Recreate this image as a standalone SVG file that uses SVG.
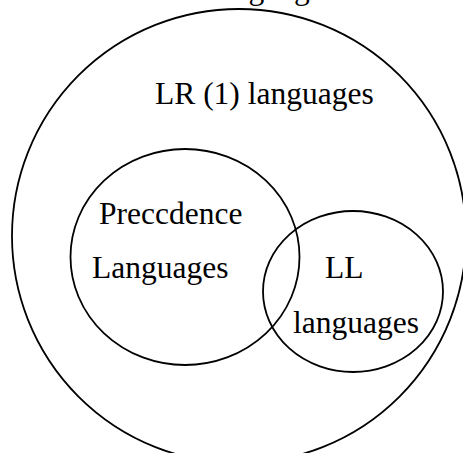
<svg xmlns="http://www.w3.org/2000/svg" width="463" height="453" viewBox="0 0 463 453">
<style>
.set{fill:none;stroke:#000;stroke-width:1.8}
text{font-family:"Liberation Serif","Times New Roman",serif;font-size:31.5px;fill:#000}
</style>
<rect width="463" height="453" fill="#fff"/>
<text id="caption" x="336" y="-1" text-anchor="end">context-free languages</text>
<g id="lr1">
<ellipse class="set" cx="239" cy="236" rx="227" ry="227"/>
<text x="155" y="104">LR (1) languages</text>
</g>
<g id="precedence">
<ellipse class="set" cx="185" cy="257" rx="114.5" ry="108"/>
<text x="99" y="224">Preccdence</text>
<text x="92" y="278">Languages</text>
</g>
<g id="ll">
<ellipse class="set" cx="353" cy="291.5" rx="90" ry="80.5"/>
<text x="325" y="278">LL</text>
<text x="293" y="333">languages</text>
</g>
<g id="connectors"/>
</svg>
